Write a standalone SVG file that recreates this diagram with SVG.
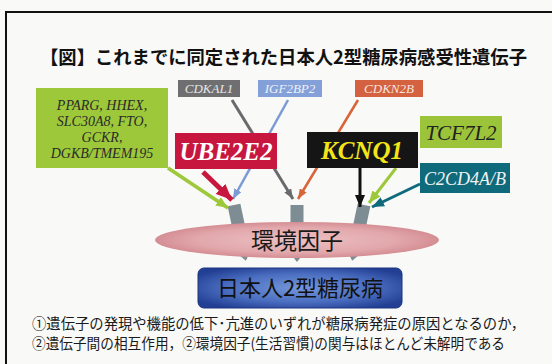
<svg xmlns="http://www.w3.org/2000/svg" width="552" height="364" viewBox="0 0 552 364">
<defs>
<style>
.gene{font-family:"Liberation Serif","DejaVu Serif",serif;font-style:italic;text-anchor:middle}
.jp{font-family:"Noto Sans CJK JP","Noto Sans",sans-serif}
.ln{fill:none;stroke-linecap:butt}
</style>
<marker id="mGray" markerUnits="userSpaceOnUse" markerWidth="10" markerHeight="8" refX="10" refY="4" orient="auto"><path d="M0,0L10,4L0,8z" fill="#6a6a6c"/></marker>
<marker id="mBlue" markerUnits="userSpaceOnUse" markerWidth="10" markerHeight="8" refX="10" refY="4" orient="auto"><path d="M0,0L10,4L0,8z" fill="#7b9ad6"/></marker>
<marker id="mOrange" markerUnits="userSpaceOnUse" markerWidth="10" markerHeight="8" refX="10" refY="4" orient="auto"><path d="M0,0L10,4L0,8z" fill="#d9643a"/></marker>
<marker id="mGreen" markerUnits="userSpaceOnUse" markerWidth="12" markerHeight="10" refX="12" refY="5" orient="auto"><path d="M0,0L12,5L0,10z" fill="#9dc83a"/></marker>
<marker id="mRed" markerUnits="userSpaceOnUse" markerWidth="16" markerHeight="14" refX="16" refY="7" orient="auto"><path d="M0,0L16,7L0,14z" fill="#c8173f"/></marker>
<marker id="mBlack" markerUnits="userSpaceOnUse" markerWidth="12" markerHeight="10" refX="12" refY="5" orient="auto"><path d="M0,0L12,5L0,10z" fill="#111"/></marker>
<marker id="mTeal" markerUnits="userSpaceOnUse" markerWidth="12" markerHeight="10" refX="12" refY="5" orient="auto"><path d="M0,0L12,5L0,10z" fill="#0f6a7c"/></marker>
<radialGradient id="gPink" cx="0.5" cy="0.5" r="0.5">
<stop offset="0" stop-color="#ecc0c2"/><stop offset="0.7" stop-color="#e2a8ac"/><stop offset="1" stop-color="#d48e94"/>
</radialGradient>
<radialGradient id="gBlue" cx="0.5" cy="0.5" r="0.6">
<stop offset="0" stop-color="#7396da"/><stop offset="0.6" stop-color="#4a6dc0"/><stop offset="1" stop-color="#223f93"/>
</radialGradient>
<path id="blk" d="M-6.5,0H6.5V46H8.5L0,57L-8.5,46H-6.5Z" fill="#7d8d93"/>
</defs>
<rect width="552" height="364" fill="#f9f9f7"/>
<path d="M6,364V12H552" fill="none" stroke="#111" stroke-width="2"/>

<text class="jp" x="40" y="64" font-size="18.5" font-weight="700" fill="#111" textLength="487" lengthAdjust="spacingAndGlyphs">【図】これまでに同定された日本人2型糖尿病感受性遺伝子</text>

<g id="blocks">
<use href="#blk" transform="translate(234,205) rotate(-12)"/>
<use href="#blk" transform="translate(297,205)"/>
<use href="#blk" transform="translate(364,205) rotate(12)"/>
</g>

<g id="connectors">
<line class="ln" x1="232" y1="100" x2="293" y2="199" stroke="#6a6a6c" stroke-width="3" marker-end="url(#mGray)"/>
<line class="ln" x1="288" y1="100" x2="233" y2="199" stroke="#7b9ad6" stroke-width="2.5" marker-end="url(#mBlue)"/>
<line class="ln" x1="358" y1="100" x2="298" y2="199" stroke="#d9643a" stroke-width="2.5" marker-end="url(#mOrange)"/>
<line class="ln" x1="168" y1="168" x2="228" y2="208" stroke="#9dc83a" stroke-width="3.5" marker-end="url(#mGreen)"/>
<line class="ln" x1="203" y1="172" x2="232" y2="200" stroke="#c8173f" stroke-width="5" marker-end="url(#mRed)"/>
<line class="ln" x1="360" y1="168" x2="360" y2="207" stroke="#111" stroke-width="3" marker-end="url(#mBlack)"/>
<line class="ln" x1="396" y1="168" x2="369" y2="203" stroke="#9dc83a" stroke-width="3" marker-end="url(#mGreen)"/>
<line class="ln" x1="420" y1="184" x2="372" y2="207" stroke="#0f6a7c" stroke-width="3" marker-end="url(#mTeal)"/>
</g>

<g id="cdkal1"><rect x="178" y="80" width="62" height="17" fill="#6f6f71"/><text class="gene" x="209" y="93" font-size="13" fill="#e6e6e6">CDKAL1</text></g>
<g id="igf2bp2"><rect x="258" y="80" width="64" height="17" fill="#84a0d8"/><text class="gene" x="290" y="93" font-size="13" fill="#eef2fa">IGF2BP2</text></g>
<g id="cdkn2b"><rect x="355" y="80" width="68" height="17" fill="#d4613f"/><text class="gene" x="389" y="93" font-size="13" fill="#f6e6df">CDKN2B</text></g>

<g id="group-genes"><rect x="36" y="88" width="132" height="80" fill="#9dc83a"/>
<text class="gene" font-size="14" fill="#2a2a2a"><tspan x="102" y="110">PPARG, HHEX,</tspan><tspan x="102" y="126">SLC30A8, FTO,</tspan><tspan x="102" y="142">GCKR,</tspan><tspan x="102" y="158">DGKB/TMEM195</tspan></text></g>

<g id="ube2e2"><rect x="175" y="133" width="102" height="36" fill="#c8173f"/><text class="gene" x="226" y="160" font-size="25" font-weight="700" fill="#fff">UBE2E2</text></g>
<g id="kcnq1"><rect x="307" y="132" width="111" height="36" fill="#151515"/><text class="gene" x="362" y="159" font-size="25" font-weight="700" fill="#f2e51a">KCNQ1</text></g>
<g id="tcf7l2"><rect x="420" y="116" width="82" height="32" fill="#9bc43b"/><text class="gene" x="461" y="140" font-size="21" fill="#222">TCF7L2</text></g>
<g id="c2cd4ab"><rect x="420" y="163" width="90" height="30" fill="#0f6a7c"/><text class="gene" x="465" y="185" font-size="18" fill="#f2f2f2">C2CD4A/B</text></g>

<g id="env"><ellipse cx="297" cy="240" rx="142" ry="18" fill="url(#gPink)"/><text class="jp" x="297" y="249" font-size="23" text-anchor="middle" fill="#1a1a1a">環境因子</text></g>

<g id="t2d"><rect x="198" y="268" width="204" height="40" rx="6" fill="url(#gBlue)" stroke="#1c347e" stroke-width="1"/><text class="jp" x="300" y="296" font-size="22" text-anchor="middle" fill="#111">日本人2型糖尿病</text></g>

<g id="notes" class="jp" font-size="14.5" fill="#1a1a1a">
<text x="32" y="329" textLength="493" lengthAdjust="spacingAndGlyphs">①遺伝子の発現や機能の低下･亢進のいずれが糖尿病発症の原因となるのか，</text>
<text x="32" y="349" textLength="473" lengthAdjust="spacingAndGlyphs">②遺伝子間の相互作用，②環境因子(生活習慣)の関与はほとんど未解明である</text>
</g>
</svg>
